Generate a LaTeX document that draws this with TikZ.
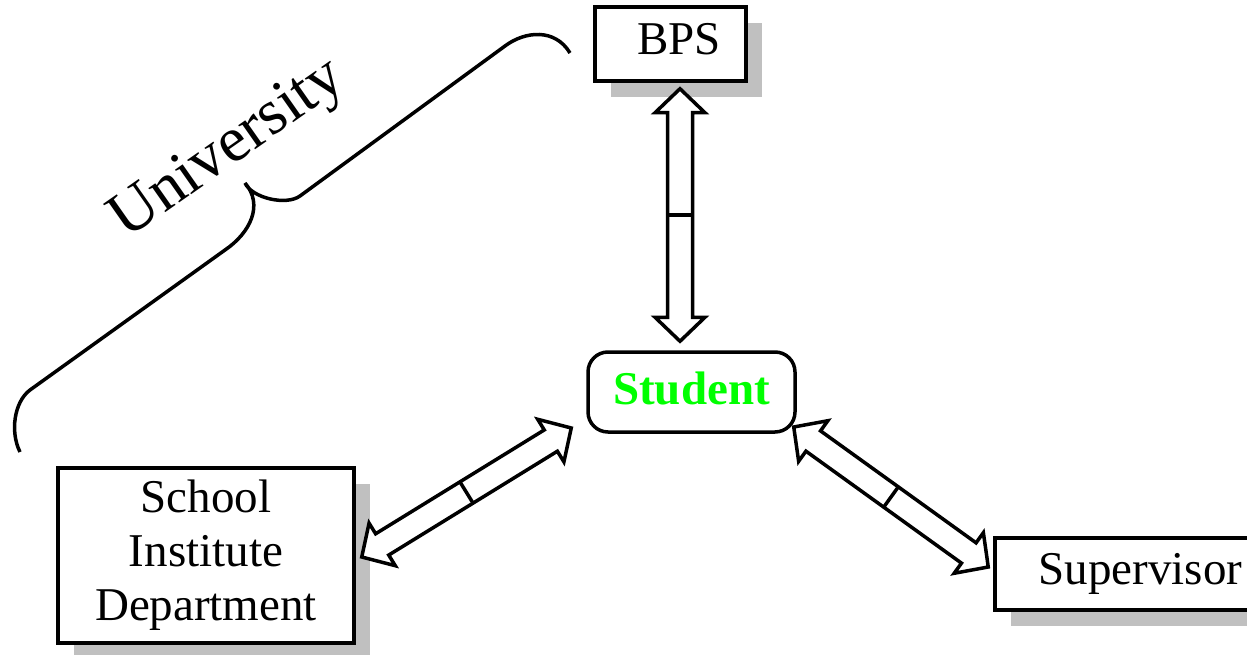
\documentclass[tikz,border=0pt]{standalone}
\usepackage{fontspec}
\setmainfont{Liberation Serif}
\usetikzlibrary{calc,shadows}
\definecolor{shadowgray}{RGB}{192,192,192}
\definecolor{stugreen}{RGB}{0,255,0}
\tikzset{
  box/.style={draw, line width=3.5pt, fill=white, inner sep=0pt,
    drop shadow={shadow xshift=16pt, shadow yshift=-16pt, fill=shadowgray, opacity=1}},
  txt/.style={font=\fontsize{47}{54}\selectfont},
  stubox/.style={draw, line width=3.5pt, fill=white, rounded corners=20pt, inner sep=0pt,
    minimum width=207pt, minimum height=80pt, text=stugreen,
    font=\fontsize{47}{54}\selectfont\bfseries},
  arrowbody/.style={draw, line width=3.5pt, fill=white, line join=miter},
  arrowbar/.style={line width=3.5pt},
  bracestyle/.style={line width=3.5pt},
  unilabel/.style={font=\fontsize{64}{64}\selectfont, inner sep=0pt, rotate=35, anchor=base west}
}
\newcommand\dblarrow[2]{%
  \path ($(#1)!24pt!(#2)$) coordinate (h1) ($(#2)!24pt!(#1)$) coordinate (h2)
        ($(#1)!0.5!(#2)$) coordinate (hm);
  \draw[arrowbody] (#1) -- ($(h1)!25pt!90:(#2)$) -- ($(h1)!12.5pt!90:(#2)$)
     -- ($(h2)!12.5pt!90:(#2)$) -- ($(h2)!25pt!90:(#2)$) -- (#2)
     -- ($(h2)!25pt!-90:(#2)$) -- ($(h2)!12.5pt!-90:(#2)$)
     -- ($(h1)!12.5pt!-90:(#2)$) -- ($(h1)!25pt!-90:(#2)$) -- cycle;
  \draw[arrowbar] ($(hm)!12.5pt!90:(#2)$) -- ($(hm)!12.5pt!-90:(#2)$);
}
\begin{document}
\begin{tikzpicture}[x=1pt, y=-1pt]
\useasboundingbox (0,0) rectangle (1247,655);
\clip (0,0) rectangle (1247,655);
% nodes
\node[box, txt, minimum width=151pt, minimum height=74pt, text depth=10pt] (bps) at (670.5,44) {\hspace*{17pt}BPS};
\node[stubox, text depth=8pt] (student) at (691.5,392) {Student};
\node[box, txt, align=center, minimum width=296pt, minimum height=175pt] (school) at (206,555.5) {School\\Institute\\Department};
\node[box, txt, minimum width=265pt, minimum height=72pt] (sup) at (1127.5,574) {\hspace*{26pt}Supervisor};
% arrow ends
\coordinate (a1) at ($(bps.south)+(9.5,6)$);
\coordinate (a2) at ($(student.north)+(-11.5,-9)$);
\coordinate (b1) at ($(student.west)+(-15,36)$);
\coordinate (b2) at ($(school.east)+(6,1.5)$);
\coordinate (c1) at ($(student.east)+(-3,35)$);
\coordinate (c2) at ($(sup.west)+(-5,-7)$);
\dblarrow{a1}{a2}
\dblarrow{b1}{b2}
\dblarrow{c1}{c2}
% brace
\draw[bracestyle] (20,452) .. controls (10,432) and (14,402) .. (30,390)
  -- (225,250) .. controls (250,233) and (264,205) .. (245,183) coordinate (bracetip)
  .. controls (252,198) and (286,206) .. (300,196)
  -- (505,46) .. controls (525,31) and (555,28) .. (570,53);
\node[unilabel] (uni) at (126,240) {University};
\end{tikzpicture}
\end{document}
